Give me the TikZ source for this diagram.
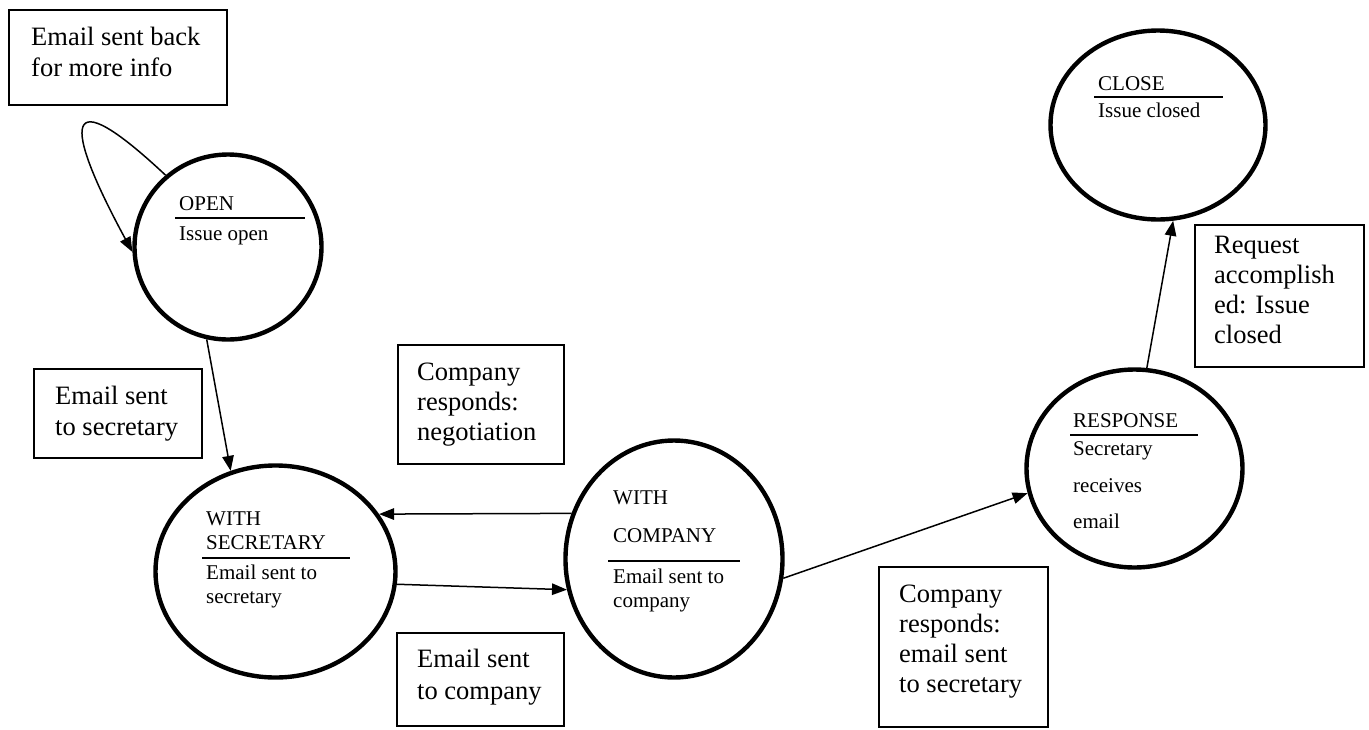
\documentclass[tikz,border=0pt]{standalone}
\usepackage{fontspec}
\setmainfont{Liberation Serif}
\usetikzlibrary{shapes.geometric,arrows.meta}
\begin{document}
\begin{tikzpicture}[x=1pt,y=-1pt,
  state/.style={ellipse,draw,line width=4.4pt,inner sep=0pt},
  notebox/.style={rectangle,draw,line width=1.6pt,inner sep=0pt},
  boxtext/.style={anchor=base west,inner sep=0pt,font=\fontsize{26.5}{30}\selectfont},
  statetext/.style={anchor=base west,inner sep=0pt,font=\fontsize{21}{25}\selectfont},
  divider/.style={line width=1.3pt},
  arr/.style={line width=1.5pt,-{Triangle[length=15pt,width=11.5pt]}}]

\useasboundingbox (0,0) rectangle (1369,729);
\fill[white] (0,0) rectangle (1369,729);

% ---- states ----
\node[state,minimum width=187,minimum height=185] (open)  at (228,247) {};
\node[state,minimum width=240,minimum height=212] (wsec)  at (275.5,571.5) {};
\node[state,minimum width=217,minimum height=237] (wcom)  at (674,559) {};
\node[state,minimum width=216,minimum height=198] (resp)  at (1134.5,468.5) {};
\node[state,minimum width=215,minimum height=189] (close) at (1158,125) {};

% state titles and descriptions
\node[statetext] (openA) at (179,210) {OPEN};
\draw[divider] (175,218) -- (305,218);
\node[statetext] (openB) at (179,240) {Issue open};

\node[statetext] (wsecA) at (206,525) {WITH};
\node[statetext] (wsecB) at (206,549) {SECRETARY};
\draw[divider] (202,558) -- (350,558);
\node[statetext] (wsecC) at (206,579) {Email sent to};
\node[statetext] (wsecD) at (206,603) {secretary};

\node[statetext] (wcomA) at (613,504) {WITH};
\node[statetext] (wcomB) at (613,542) {COMPANY};
\draw[divider] (608,561) -- (740,561);
\node[statetext] (wcomC) at (613,583) {Email sent to};
\node[statetext] (wcomD) at (613,607) {company};

\node[statetext] (respA) at (1073,427) {RESPONSE};
\draw[divider] (1070,435) -- (1198,435);
\node[statetext] (respB) at (1073,455) {Secretary};
\node[statetext] (respC) at (1073,492) {receives};
\node[statetext] (respD) at (1073,528) {email};

\node[statetext] (closeA) at (1098,90) {CLOSE};
\draw[divider] (1094,97) -- (1223,97);
\node[statetext] (closeB) at (1098,117) {Issue closed};

% ---- transition notes ----
\node[notebox,minimum width=218.5,minimum height=95.5]  (n1) at (118,57.5) {};
\node[notebox,minimum width=168.5,minimum height=89.5]  (n2) at (118,413.5) {};
\node[notebox,minimum width=166.5,minimum height=119.5] (n3) at (481,404.5) {};
\node[notebox,minimum width=167.5,minimum height=93.5]  (n4) at (480.5,679.5) {};
\node[notebox,minimum width=169.5,minimum height=160.5] (n5) at (963.5,647) {};
\node[notebox,minimum width=169.5,minimum height=142.5] (n6) at (1279.5,296) {};

\foreach [count=\i] \t in {Email sent back, for more info}
  \node[boxtext] (n1-\i) at (31,{45+31*(\i-1)}) {\t};
\foreach [count=\i] \t in {Email sent, to secretary}
  \node[boxtext] (n2-\i) at (55,{404+31*(\i-1)}) {\t};
\foreach [count=\i] \t in {Company, responds:, negotiation}
  \node[boxtext] (n3-\i) at (417,{380+30*(\i-1)}) {\t};
\foreach [count=\i] \t in {Email sent, to company}
  \node[boxtext] (n4-\i) at (417,{667+32*(\i-1)}) {\t};
\foreach [count=\i] \t in {Company, responds:, email sent, to secretary}
  \node[boxtext] (n5-\i) at (899,{602+30*(\i-1)}) {\t};
\foreach [count=\i] \t in {Request, accomplish, ed: Issue, closed}
  \node[boxtext] (n6-\i) at (1214,{253+30*(\i-1)}) {\t};

% ---- transitions ----
\draw[arr] (open.131) .. controls (62,78) and (62,122) .. (open.183);
\draw[arr] (open.-103) -- (wsec.114.5);
\draw[arr] (wcom.156) -- (wsec.29.2);
\draw[arr] (wsec.-6.3) -- (wcom.196.6);
\draw[arr] (wcom.-10.7) -- (resp.193.6);
\draw[arr] (resp.83) -- (close.-81.5);
\end{tikzpicture}
\end{document}
